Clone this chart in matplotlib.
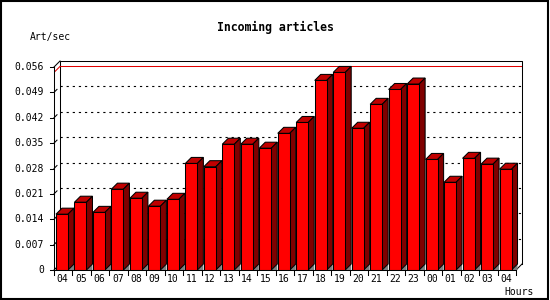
"""Incoming articles per hour - JpGraph-style 3D bar chart."""

import matplotlib
matplotlib.use("Agg")
import matplotlib.pyplot as plt
from matplotlib.patches import Polygon, Rectangle

# ── Data ────────────────────────────────────────────────────────────────
hours = ["04", "05", "06", "07", "08", "09", "10", "11", "12", "13",
         "14", "15", "16", "17", "18", "19", "20", "21", "22", "23",
         "00", "01", "02", "03", "04"]
rates = [0.0154, 0.0187, 0.0159, 0.0223, 0.0198, 0.0176, 0.0195, 0.0294,
         0.0285, 0.0347, 0.0347, 0.0336, 0.0377, 0.0407, 0.0523, 0.0545,
         0.0391, 0.0457, 0.0498, 0.0513, 0.0305, 0.0242, 0.0308, 0.0292,
         0.0278]
yticks = [0, 0.007, 0.014, 0.021, 0.028, 0.035, 0.042, 0.049, 0.056]
ytick_labels = ["0", "0.007", "0.014", "0.021", "0.028", "0.035", "0.042",
                "0.049", "0.056"]

# ── Colours ─────────────────────────────────────────────────────────────
FRONT = "#FF0000"
TOP = "#C00000"
SIDE = "#800000"
FLOOR = "#808080"
FONT = "DejaVu Sans Mono"

# ── Geometry (pixels -> data units) ─────────────────────────────────────
W, H = 550, 300
ymax = 0.056
px_x0, px_x1 = 54, 516          # front x axis extent
px_y0, px_y1 = 270, 67          # front y for 0 and ymax
depth = 6                       # 3D depth in pixels
n = len(rates)
sx = (px_x1 - px_x0) / n        # px per x unit
sy = (px_y0 - px_y1) / ymax     # px per y unit
ddx = depth / sx
ddy = depth / sy
bar_w = 12 / sx
bar_off = 2 / sx

fig = plt.figure(figsize=(W / 100, H / 100), dpi=100)
fig.patch.set_facecolor("white")
ax = fig.add_axes([px_x0 / W, (H - px_y0) / H,
                   (px_x1 - px_x0 + depth) / W, (px_y0 - px_y1 + depth) / H])
ax.set_xlim(0, n + ddx)
ax.set_ylim(0, ymax + ddy)
ax.axis("off")

LW = 0.75

# back plane frame
ax.plot([ddx, ddx, n + ddx, n + ddx], [ddy, ymax + ddy, ymax + ddy, ddy],
        color="black", lw=LW, clip_on=False, zorder=1)
ax.plot([0, ddx], [ymax, ymax + ddy], color="black", lw=LW, clip_on=False)
ax.plot([0, ddx], [0, ddy], color="black", lw=LW, clip_on=False)
ax.plot([n, n + ddx], [0, ddy], color="black", lw=LW, clip_on=False)

# grid lines on the back plane
for t in yticks[1:-1]:
    ax.plot([ddx, n + ddx], [t + ddy, t + ddy], color="black", lw=0.8,
            dashes=(2.0, 3.5), zorder=1)
    ax.plot([0, ddx * 0.5], [t, t + ddy * 0.5], color="black", lw=LW,
            clip_on=False, zorder=1)

# red line at the maximum
peak = max(rates)
ax.plot([ddx, n + ddx], [peak + ddy, peak + ddy], color="#E00000", lw=LW,
        zorder=1)
ax.plot([0, ddx], [peak, peak + ddy], color="#E00000", lw=LW, zorder=1)

# bars
xs = [i + bar_off for i in range(n)]
ax.bar(xs, rates, width=bar_w, align="edge", color=FRONT,
       edgecolor="black", linewidth=LW, zorder=4)
for x, v in zip(xs, rates):
    xr = x + bar_w
    ax.add_patch(Polygon([(xr, 0), (xr + ddx, ddy), (xr + ddx, 0)],
                         closed=True, facecolor=FLOOR, edgecolor="none",
                         zorder=2))
    ax.add_patch(Polygon([(x, v), (x + ddx, v + ddy), (xr + ddx, v + ddy),
                          (xr, v)], closed=True, facecolor=TOP,
                         edgecolor="black", linewidth=LW, zorder=3))
    ax.add_patch(Polygon([(xr, 0), (xr, v), (xr + ddx, v + ddy),
                          (xr + ddx, ddy)], closed=True, facecolor=SIDE,
                         edgecolor="black", linewidth=LW, zorder=3))

# front axes
ax.plot([0, 0], [0, ymax], color="black", lw=LW, clip_on=False, zorder=5)
ax.plot([0, n], [0, 0], color="black", lw=LW, clip_on=False, zorder=5)
tick_x = 4 / sx
tick_y = 5 / sy
for t, lab in zip(yticks, ytick_labels):
    ax.plot([-tick_x, 0], [t, t], color="black", lw=LW, clip_on=False)
    ax.text(-10 / sx, t, lab, ha="right", va="center", fontsize=7,
            family=FONT)
for i in range(n + 1):
    ax.plot([i, i], [0, -tick_y], color="black", lw=LW, clip_on=False)
for i, lab in enumerate(hours):
    ax.text(i + 0.45, -9 / sy, lab, ha="center", va="center", fontsize=7,
            family=FONT)

# titles
fig.text(275 / W, 1 - 27 / H, "Incoming articles", ha="center", va="center",
         fontsize=8.3, weight="bold", family=FONT)
fig.text(30 / W, 1 - 37 / H, "Art/sec", ha="left", va="center",
         fontsize=7, family=FONT)
fig.text(519 / W, 1 - 292 / H, "Hours", ha="center", va="center",
         fontsize=7, family=FONT)

# outer border
fig.add_artist(Rectangle((0.001, 0.002), 0.996, 0.995,
                         transform=fig.transFigure, fill=False,
                         edgecolor="black", linewidth=1.5))

fig.savefig("out.png", dpi=100, facecolor="white")
